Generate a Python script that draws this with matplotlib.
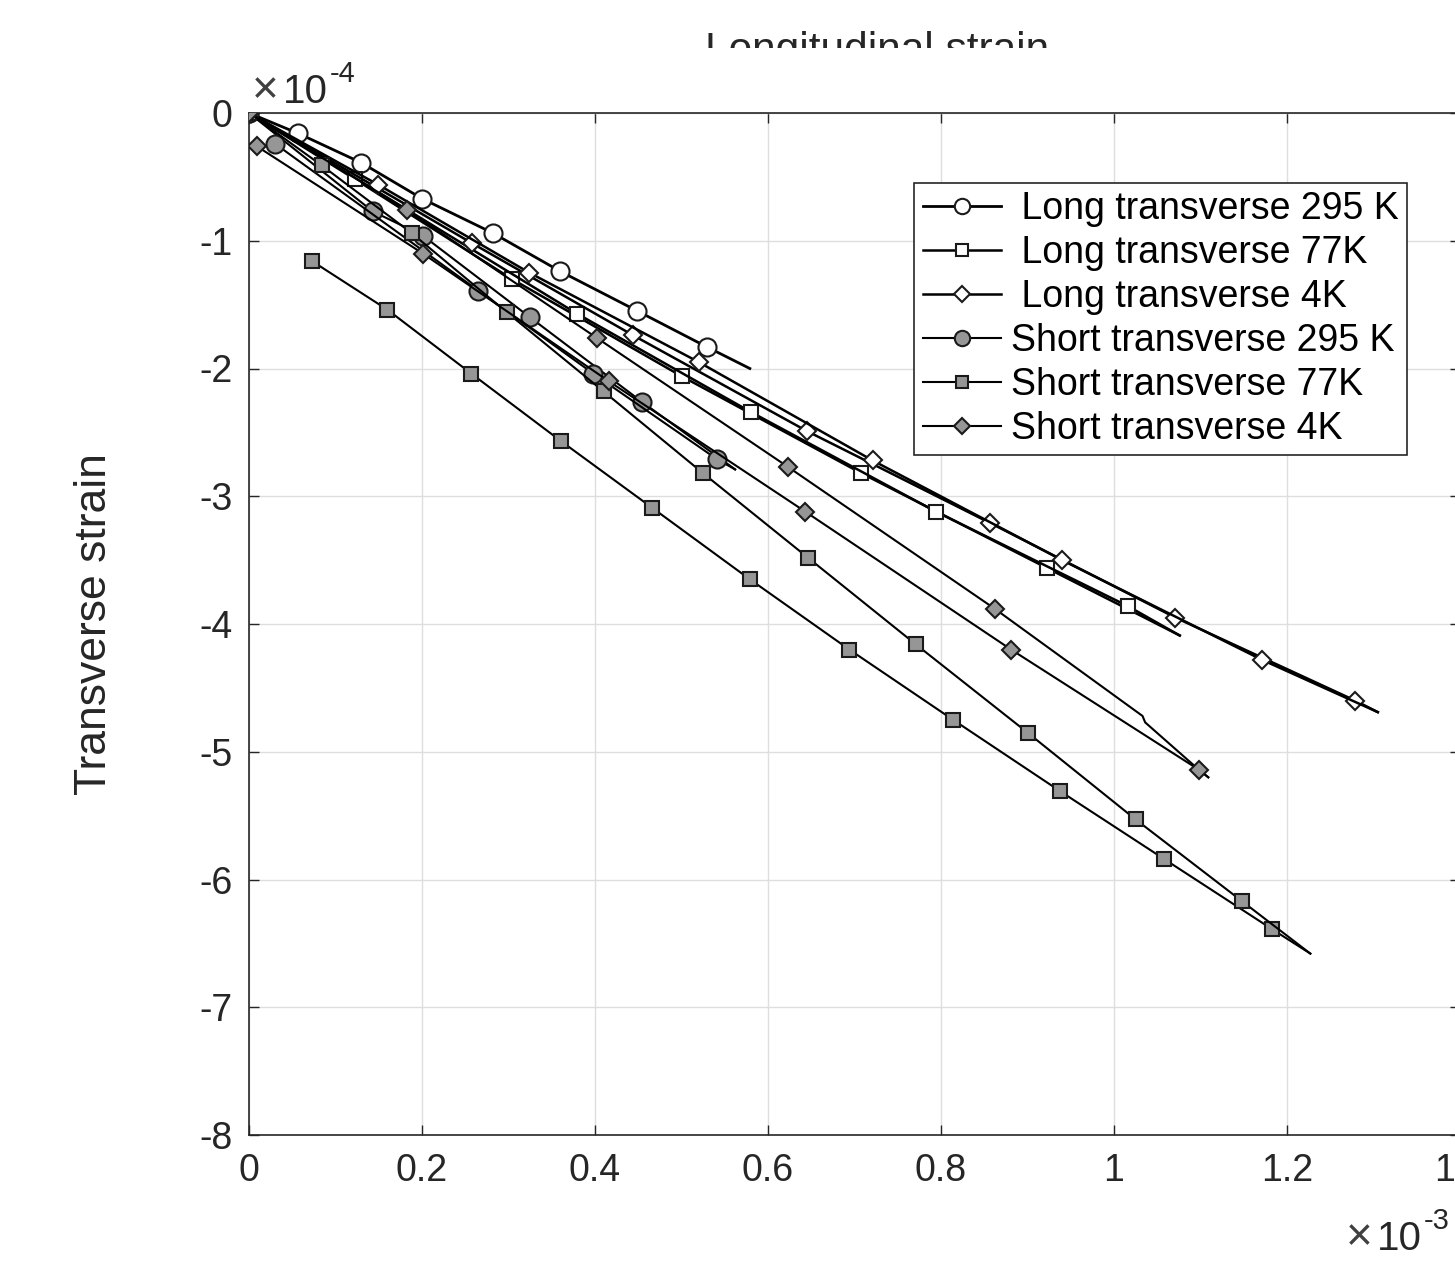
import matplotlib
matplotlib.use('Agg')
import matplotlib.pyplot as plt
from matplotlib.transforms import Bbox, TransformedBbox

plt.rcParams['font.family'] = ['Liberation Sans', 'DejaVu Sans']
plt.rcParams['axes.unicode_minus'] = False

# x in units of 1e-3, y in units of 1e-4
# Long transverse 295 K
lt295_x = [0, 0.057, 0.13, 0.2, 0.282, 0.36, 0.449, 0.529, 0.579]
lt295_y = [0, -0.16, -0.39, -0.67, -0.94, -1.24, -1.55, -1.83, -2.0]
lt295_m = [0, 1, 2, 3, 4, 5, 6, 7]

# Long transverse 77K (two branches)
lt77a_x = [0, 0.123, 0.304, 0.5, 0.708, 0.922, 1.076]
lt77a_y = [0, -0.52, -1.30, -2.06, -2.82, -3.56, -4.09]
lt77a_m = [0, 1, 2, 3, 4, 5]
lt77b_x = [0, 0.379, 0.58, 0.794, 1.016, 1.076]
lt77b_y = [0, -1.57, -2.34, -3.12, -3.86, -4.09]
lt77b_m = [1, 2, 3, 4]

# Long transverse 4K (two branches)
lt4a_x = [0, 0.258, 0.444, 0.645, 0.857, 1.071, 1.279, 1.305]
lt4a_y = [0, -1.02, -1.74, -2.49, -3.21, -3.95, -4.60, -4.69]
lt4a_m = [0, 1, 2, 3, 4, 5, 6]
lt4b_x = [0, 0.149, 0.324, 0.52, 0.721, 0.94, 1.171, 1.305]
lt4b_y = [0, -0.56, -1.25, -1.95, -2.72, -3.50, -4.28, -4.69]
lt4b_m = [1, 2, 3, 4, 5, 6]

# Short transverse 295 K (two branches)
st295a_x = [0, 0.143, 0.201, 0.325, 0.454, 0.562]
st295a_y = [0, -0.77, -0.96, -1.60, -2.26, -2.79]
st295a_m = [0, 1, 2, 3, 4]
st295b_x = [0.03, 0.265, 0.398, 0.541, 0.562]
st295b_y = [-0.24, -1.39, -2.04, -2.71, -2.79]
st295b_m = [0, 1, 2, 3]

# Short transverse 77K (two branches)
st77a_x = [0.073, 0.16, 0.257, 0.361, 0.466, 0.579, 0.694, 0.814, 0.938, 1.058, 1.183, 1.227]
st77a_y = [-1.16, -1.54, -2.04, -2.57, -3.09, -3.65, -4.20, -4.75, -5.31, -5.84, -6.39, -6.58]
st77a_m = [0, 1, 2, 3, 4, 5, 6, 7, 8, 9, 10]
st77b_x = [0, 0.084, 0.188, 0.298, 0.41, 0.525, 0.646, 0.771, 0.90, 1.025, 1.148, 1.227]
st77b_y = [0, -0.41, -0.94, -1.56, -2.18, -2.82, -3.48, -4.16, -4.85, -5.53, -6.17, -6.58]
st77b_m = [0, 1, 2, 3, 4, 5, 6, 7, 8, 9, 10]

# Short transverse 4K (two branches)
st4a_x = [0, 0.183, 0.402, 0.623, 0.862, 1.033, 1.036, 1.098, 1.109]
st4a_y = [0, -0.76, -1.76, -2.77, -3.88, -4.72, -4.77, -5.14, -5.20]
st4a_m = [0, 1, 2, 3, 4]
st4b_x = [0.009, 0.201, 0.416, 0.643, 0.881, 1.098, 1.109]
st4b_y = [-0.26, -1.10, -2.10, -3.12, -4.20, -5.14, -5.20]
st4b_m = [0, 1, 2, 3, 4, 5]

labels = [' Long transverse 295 K', ' Long transverse 77K', ' Long transverse 4K',
          'Short transverse 295 K', 'Short transverse 77K', 'Short transverse 4K']

series = [
    [(lt295_x, lt295_y, lt295_m)],
    [(lt77a_x, lt77a_y, lt77a_m), (lt77b_x, lt77b_y, lt77b_m)],
    [(lt4a_x, lt4a_y, lt4a_m), (lt4b_x, lt4b_y, lt4b_m)],
    [(st295a_x, st295a_y, st295a_m), (st295b_x, st295b_y, st295b_m)],
    [(st77a_x, st77a_y, st77a_m), (st77b_x, st77b_y, st77b_m)],
    [(st4a_x, st4a_y, st4a_m), (st4b_x, st4b_y, st4b_m)],
]
markers = ['o', 's', 'D', 'o', 's', 'D']
msizes = [13, 10.5, 9.5, 13, 10.5, 9.5]
faces = ['white', 'white', 'white', '#969696', '#969696', '#969696']
lws = [2.0, 1.8, 1.8, 1.5, 1.5, 1.5]

W, H = 1455, 1268
fig = plt.figure(figsize=(W / 100, H / 100), dpi=100)
ax = fig.add_axes([249 / W, (H - 1135) / H, 1211 / W, 1022 / H])

for i, lines in enumerate(series):
    for j, (x, y, m) in enumerate(lines):
        ax.plot(x, y, '-', color='black', lw=lws[i], marker=markers[i],
                markevery=m, ms=msizes[i], mfc=faces[i], mec='#1a1a1a', mew=1.5,
                label=labels[i] if j == 0 else None, zorder=3 + i)

ax.set_xlim(0, 1.4)
ax.set_ylim(-8, 0)
xt = [0, 0.2, 0.4, 0.6, 0.8, 1.0, 1.2, 1.4]
ax.set_xticks(xt)
ax.set_xticklabels(['0', '0.2', '0.4', '0.6', '0.8', '1', '1.2', '1.4'])
yt = [0, -1, -2, -3, -4, -5, -6, -7, -8]
ax.set_yticks(yt)
ax.set_yticklabels(['0', '-1', '-2', '-3', '-4', '-5', '-6', '-7', '-8'])
ax.tick_params(direction='in', length=7, width=1.0, top=True, right=True,
               labelsize=27, colors='#262626')
ax.tick_params(axis='x', pad=13)
ax.tick_params(axis='y', pad=12)
ax.grid(True, color='#dedede', lw=1.0, zorder=0)
ax.set_axisbelow(True)
for s in ax.spines.values():
    s.set_linewidth(1.2)
    s.set_color('#262626')

leg = ax.legend(loc='upper right', bbox_to_anchor=(0.956, 0.9315), borderaxespad=0,
                fontsize=27, frameon=True, fancybox=False, framealpha=1,
                edgecolor='#262626', labelspacing=0.21, handlelength=2.1,
                handletextpad=0.25, borderpad=0.22, markerscale=0.85)
leg.get_frame().set_linewidth(1.2)

fig.text(95 / W, 0.5 - (624 - 634) / H, 'Transverse strain', rotation=90,
         ha='center', va='center', fontsize=32, color='#262626')

# exponent labels
def exponent(x0, base_y, power):
    fig.text(x0 / W, (H - base_y) / H, '\u00d7', fontsize=33,
             ha='left', va='baseline', color='#404040')
    fig.text((x0 + 31) / W, (H - base_y) / H, '10', fontsize=29,
             ha='left', va='baseline', color='#262626')
    fig.text((x0 + 78) / W, (H - base_y + 21) / H, power, fontsize=21,
             ha='left', va='baseline', color='#262626')

exponent(252, 103, '-4')
exponent(1346, 1250, '-3')

t = fig.text(877 / W, (H - 62) / H, 'Longitudinal strain', fontsize=30.5,
             ha='center', va='baseline', color='#262626')
t.set_clip_box(TransformedBbox(Bbox([[0, 1 - 48 / H], [1, 1]]), fig.transFigure))
t.set_clip_on(True)

fig.savefig('out.png', dpi=100)
